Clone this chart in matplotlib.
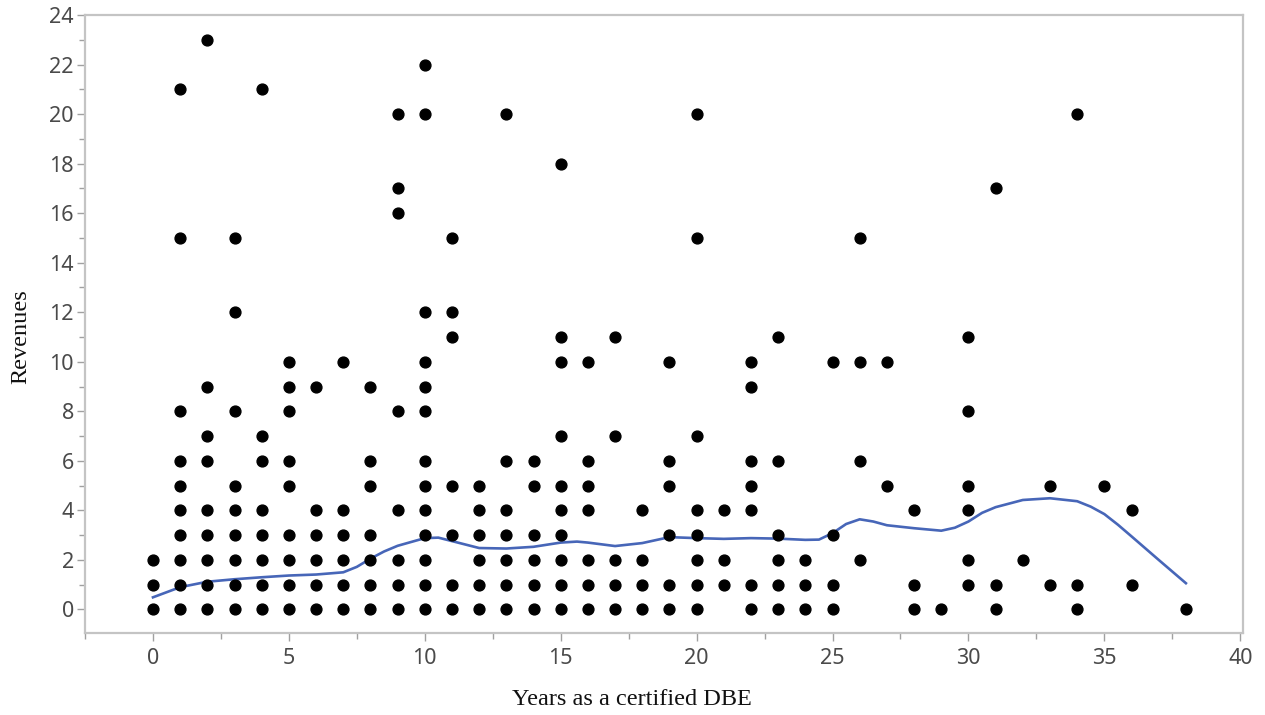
import matplotlib
matplotlib.use("Agg")
import matplotlib.pyplot as plt
from matplotlib.ticker import MultipleLocator

# Scatter data: years -> list of revenue values
years = [0, 1, 2, 3, 4, 5, 6, 7, 8, 9, 10, 11, 12, 13, 14, 15, 16, 17, 18, 19,
         20, 21, 22, 23, 24, 25, 26, 27, 28, 29, 30, 31, 32, 33, 34, 35, 36, 38]
revenues = [
    [0, 1, 2],
    [0, 1, 2, 3, 4, 5, 6, 8, 15, 21],
    [0, 1, 2, 3, 4, 6, 7, 9, 23],
    [0, 1, 2, 3, 4, 5, 8, 12, 15],
    [0, 1, 2, 3, 4, 6, 7, 21],
    [0, 1, 2, 3, 5, 6, 8, 9, 10],
    [0, 1, 2, 3, 4, 9],
    [0, 1, 2, 3, 4, 10],
    [0, 1, 2, 3, 5, 6, 9],
    [0, 1, 2, 4, 8, 16, 17, 20],
    [0, 1, 2, 3, 4, 5, 6, 8, 9, 10, 12, 20, 22],
    [0, 1, 3, 5, 11, 12, 15],
    [0, 1, 2, 3, 4, 5],
    [0, 1, 2, 3, 4, 6, 20],
    [0, 1, 2, 3, 5, 6],
    [0, 1, 2, 3, 4, 5, 7, 10, 11, 18],
    [0, 1, 2, 4, 5, 6, 10],
    [0, 1, 2, 7, 11],
    [0, 1, 2, 4],
    [0, 1, 3, 5, 6, 10],
    [0, 1, 2, 3, 4, 7, 15, 20],
    [1, 2, 4],
    [0, 1, 4, 5, 6, 9, 10],
    [0, 1, 2, 3, 6, 11],
    [0, 1, 2],
    [0, 1, 3, 10],
    [2, 6, 10, 15],
    [5, 10],
    [0, 1, 4],
    [0],
    [1, 2, 4, 5, 8, 11],
    [0, 1, 17],
    [2],
    [1, 5],
    [0, 1, 20],
    [5],
    [1, 4],
    [0],
]

# Smoothed fit curve
curve_x = [0, 1, 2, 3, 4, 5, 6, 7, 7.5, 8, 8.5, 9, 10, 10.5, 11, 12, 13, 14, 15,
           15.6, 16, 17, 18, 19, 20, 21, 22, 23, 24, 24.5, 25, 25.5, 26, 26.5, 27,
           28, 29, 29.5, 30, 30.5, 31, 32, 33, 34, 34.5, 35, 35.5, 36, 37, 38]
curve_y = [0.49, 0.9, 1.12, 1.22, 1.3, 1.37, 1.41, 1.5, 1.72, 2.05, 2.34, 2.57, 2.88,
           2.9, 2.76, 2.48, 2.46, 2.53, 2.7, 2.74, 2.7, 2.56, 2.68, 2.92, 2.88, 2.85,
           2.88, 2.86, 2.81, 2.82, 3.08, 3.45, 3.64, 3.55, 3.4, 3.28, 3.18, 3.3, 3.55,
           3.9, 4.13, 4.42, 4.49, 4.37, 4.15, 3.85, 3.42, 2.95, 2.0, 1.06]

xs, ys = [], []
for x, vals in zip(years, revenues):
    for v in vals:
        xs.append(x)
        ys.append(v)

fig = plt.figure(figsize=(12.65, 7.15), dpi=100)
ax = fig.add_axes([0.0672, 0.1147, 0.9154, 0.8643])

ax.plot(xs, ys, 'o', color='black', markersize=7.8, linestyle='none', zorder=3)
ax.plot(curve_x, curve_y, color='#4766b8', linewidth=1.9, zorder=2,
        solid_joinstyle='round')

ax.set_xlim(-2.5, 40.1)
ax.set_ylim(-0.95, 24.0)

ax.xaxis.set_major_locator(MultipleLocator(5))
ax.xaxis.set_minor_locator(MultipleLocator(2.5))
ax.yaxis.set_major_locator(MultipleLocator(2))
ax.yaxis.set_minor_locator(MultipleLocator(1))

for s in ax.spines.values():
    s.set_color('#c4c4c4')
    s.set_linewidth(1.6)

ax.tick_params(axis='both', which='major', direction='out', length=6, width=1,
               color='#a0a0a0', labelcolor='#4a4a4a', labelsize=15.5)
ax.tick_params(axis='x', which='major', pad=5)
ax.tick_params(axis='y', which='major', pad=2)
ax.tick_params(axis='both', which='minor', direction='out', length=4, width=1,
               color='#a0a0a0')
for lab in ax.get_xticklabels() + ax.get_yticklabels():
    lab.set_family('Noto Sans')

ax.set_xlabel('Years as a certified DBE', family='Liberation Serif', fontsize=17.5,
              color='#111111')
ax.xaxis.set_label_coords(0.472, -0.107)
ax.xaxis.label.set_va('center')
ax.set_ylabel('Revenues', family='Liberation Serif', fontsize=17.5, color='#111111')
ax.yaxis.set_label_coords(-0.0553, 0.48)
ax.yaxis.label.set_va('center')

fig.savefig('out.png', dpi=100, facecolor='white')
